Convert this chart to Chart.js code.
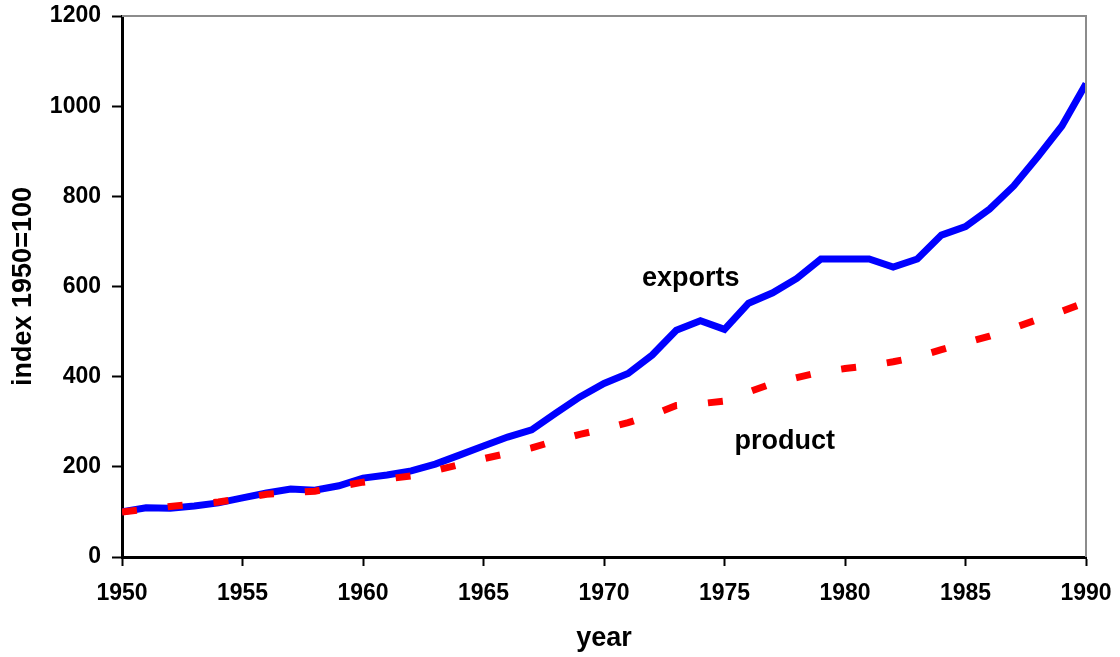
<!DOCTYPE html>
<html>
<head>
<meta charset="utf-8">
<script src="https://cdn.jsdelivr.net/npm/chart.js@4/dist/chart.umd.min.js"></script>
<style>
  html, body { margin: 0; padding: 0; background: #ffffff; }
  #wrap { width: 1120px; height: 657px; }
</style>
</head>
<body>
<div id="wrap"><canvas id="tradeChart"></canvas></div>
<script>
const years = [];
for (let y = 1950; y <= 1990; y++) years.push(y);

const exportsIndex = [100, 109, 108, 113, 120, 131, 142, 151, 148, 158,
  175, 182, 191, 206, 226, 246, 266, 282, 319, 355,
  385, 407, 448, 503, 524, 505, 563, 586, 618, 661,
  661, 661, 643, 661, 714, 733, 772, 823, 888, 956, 1050];

const productIndex = [100, 106, 112, 117, 122, 130, 139, 143, 146, 156,
  166, 173, 180, 192, 205, 218, 230, 242, 258, 272,
  284, 298, 315, 336, 340, 346, 366, 385, 398, 410,
  418, 424, 433, 444, 460, 475, 490, 508, 527, 545, 565];

const yTicks = [0, 200, 400, 600, 800, 1000, 1200];
const xTicks = [1950, 1955, 1960, 1965, 1970, 1975, 1980, 1985, 1990];

const labelNotes = [
  { text: "exports", x: 1973.6, y: 617 },
  { text: "product", x: 1977.5, y: 257 },
];

const fontFam = "'Liberation Sans', Arial, Helvetica, sans-serif";

// grey frame on top/right + the two in-plot labels
const framePlugin = {
  id: "frame",
  afterDraw(chart) {
    const { ctx, chartArea } = chart;
    ctx.save();
    ctx.strokeStyle = "#8c8c8c";
    ctx.lineWidth = 2;
    ctx.beginPath();
    ctx.moveTo(chartArea.left, chartArea.top);
    ctx.lineTo(chartArea.right, chartArea.top);
    ctx.lineTo(chartArea.right, chartArea.bottom);
    ctx.stroke();

    ctx.fillStyle = "#000000";
    ctx.font = "bold 27px " + fontFam;
    ctx.textAlign = "center";
    ctx.textBaseline = "middle";
    const xs = chart.scales.x, ys = chart.scales.y;
    labelNotes.forEach(n => {
      ctx.fillText(n.text, xs.getPixelForValue(n.x), ys.getPixelForValue(n.y));
    });
    ctx.restore();
  }
};

const toPoints = arr => arr.map((v, i) => ({ x: years[i], y: v }));

const noEdgePad = s => {
  s.paddingLeft = 0; s.paddingRight = 0;
  s.paddingTop = 0; s.paddingBottom = 0;
};

new Chart(document.getElementById("tradeChart"), {
  type: "line",
  data: {
    datasets: [
      {
        label: "product",
        data: toPoints(productIndex),
        borderColor: "#ff0000",
        borderWidth: 7,
        borderDash: [15, 31],
        pointRadius: 0,
        tension: 0,
        order: 0,
      },
      {
        label: "exports",
        data: toPoints(exportsIndex),
        borderColor: "#0000ff",
        borderWidth: 7,
        pointRadius: 0,
        tension: 0,
        order: 1,
      },
    ],
  },
  options: {
    responsive: true,
    maintainAspectRatio: false,
    animation: false,
    layout: { padding: { top: 16, right: 34, left: 0, bottom: 0 } },
    plugins: {
      legend: { display: false },
      tooltip: { enabled: false },
    },
    scales: {
      x: {
        type: "linear",
        min: 1950,
        max: 1990,
        afterBuildTicks: s => { s.ticks = xTicks.map(v => ({ value: v })); },
        afterFit: s => { s.height = 100; noEdgePad(s); },
        grid: {
          drawOnChartArea: false,
          drawTicks: true,
          tickLength: 9,
          tickWidth: 2,
          color: "#000000",
        },
        border: { display: true, color: "#000000", width: 3 },
        ticks: {
          color: "#000000",
          font: { family: fontFam, size: 23, weight: "bold" },
          padding: 14,
          maxRotation: 0,
          callback: v => String(v),
        },
        title: {
          display: true,
          text: "year",
          color: "#000000",
          font: { family: fontFam, size: 27, weight: "bold" },
          padding: { top: 0, bottom: 2 },
        },
      },
      y: {
        min: 0,
        max: 1200,
        afterBuildTicks: s => { s.ticks = yTicks.map(v => ({ value: v })); },
        afterFit: s => { s.width = 122; noEdgePad(s); },
        grid: {
          drawOnChartArea: false,
          drawTicks: true,
          tickLength: 10,
          tickWidth: 2,
          color: "#000000",
        },
        border: { display: true, color: "#000000", width: 3 },
        ticks: {
          color: "#000000",
          font: { family: fontFam, size: 23, weight: "bold" },
          padding: 11,
          callback: v => String(v),
        },
        title: {
          display: true,
          text: "index 1950=100",
          color: "#000000",
          font: { family: fontFam, size: 27, weight: "bold" },
          padding: { top: 7, bottom: 0 },
        },
      },
    },
  },
  plugins: [framePlugin],
});
</script>
</body>
</html>
